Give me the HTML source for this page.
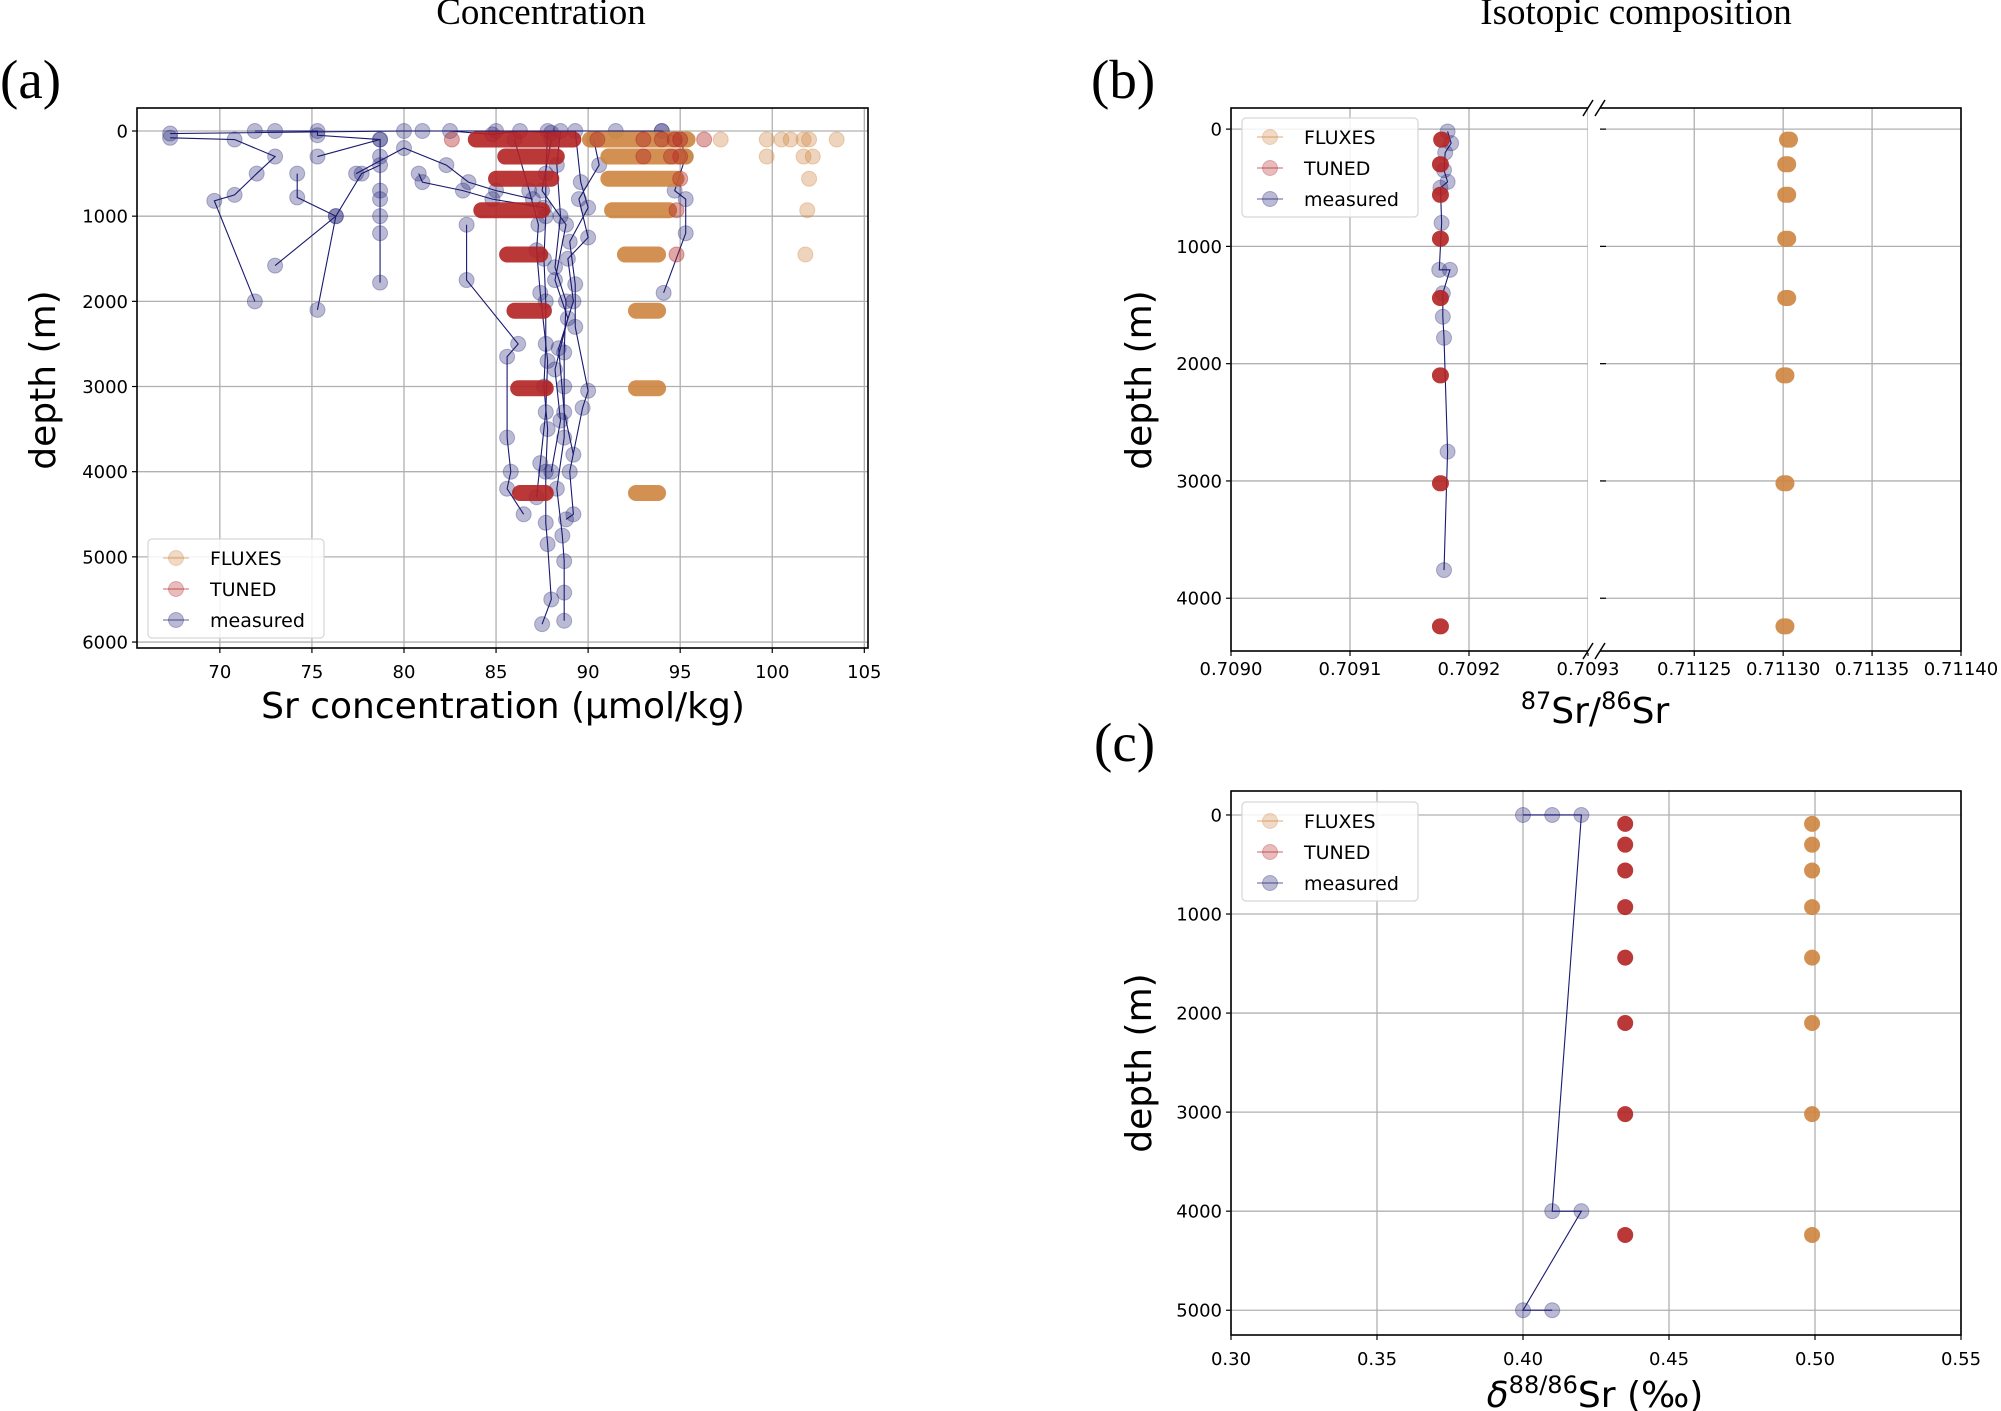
<!DOCTYPE html>
<html><head><meta charset="utf-8"><style>
html,body{margin:0;padding:0;background:#fff;}
svg{display:block;}
text{font-family:"DejaVu Sans","Liberation Sans",sans-serif;fill:#000;}
.serif{font-family:"Liberation Serif",serif;}
</style></head><body>
<svg id="fig" width="2001" height="1411" viewBox="0 0 2001 1411" xmlns="http://www.w3.org/2000/svg">
<text class="serif" x="541" y="24" font-size="37" text-anchor="middle">Concentration</text>
<text class="serif" x="1636" y="24" font-size="37" text-anchor="middle">Isotopic composition</text>
<text class="serif" x="0" y="98" font-size="55">(a)</text>
<text class="serif" x="1091" y="98" font-size="55">(b)</text>
<text class="serif" x="1094" y="761" font-size="55">(c)</text>
</svg>
<script>
// ---------- data ----------
// Panel (a) Sr concentration
const depthsA = [100, 300, 560, 930, 1450, 2110, 3020, 4250];
const tunedMinA = [83.9, 85.5, 85.0, 84.2, 85.6, 86.0, 86.2, 86.3];
const tunedMaxA = [89.2, 88.3, 88.0, 87.5, 87.4, 87.6, 87.7, 87.7];
const tunedExtraX = [82.6, 90.5, 93.0, 94.0, 94.7, 95.0, 96.3, 93.0, 94.5, 95.0, 95.0, 94.8, 94.8];
const tunedExtraD = [100, 100, 100, 100, 100, 100, 100, 300, 300, 300, 560, 930, 1450];
const fluxMinA = [90.1, 91.1, 91.1, 91.3, 92.0, 92.6, 92.6, 92.6];
const fluxMaxA = [95.4, 95.3, 94.8, 94.4, 93.8, 93.8, 93.8, 93.8];
const fluxExtraX = [97.2, 99.7, 100.5, 101.0, 101.7, 102.0, 103.5, 99.7, 101.7, 102.2, 102.0, 101.9, 101.8];
const fluxExtraD = [100, 100, 100, 100, 100, 100, 100, 300, 300, 300, 560, 930, 1450];
const measuredProfilesA = [
 [[67.3,80],[70.8,100],[73,300],[72,500],[70.8,750],[69.7,820],[71.9,2000]],
 [[71.9,0],[73,0],[75.3,0],[75.3,50],[78.7,100],[78.7,300],[78.7,400],[77.7,500],[76.3,1000],[73,1580]],
 [[74.2,500],[74.2,780],[76.3,1000],[75.3,2100]],
 [[75.3,300],[78.7,100],[78.7,700],[78.7,800],[78.7,1000],[78.7,1200],[78.7,1780]],
 [[67.3,30],[80,0],[85,0],[91.5,0],[94,0]],
 [[81,0],[82.5,0],[84.8,40],[86.3,0],[88,20]],
 [[83.4,1100],[83.4,1750],[86.2,2500],[85.6,2650],[85.6,3600],[85.8,4000],[85.6,4200],[86.5,4500]],
 [[87.8,0],[87.7,500],[87.7,1000],[87.6,1500],[87.7,2000],[87.7,2500],[87.6,3000],[87.8,3500],[87.7,4000],[87.7,4600],[87.8,4850],[88,5500],[87.5,5790]],
 [[88.5,0],[88.3,400],[88.5,1000],[88.2,1600],[88.8,2000],[88.7,2600],[88.7,3000],[88.7,3600],[88.3,4200],[88.6,4750],[88.7,5050],[88.7,5420],[88.7,5750]],
 [[89.3,0],[89.6,600],[90,900],[89,1300],[89.3,1800],[89.3,2300],[90,3050],[89.7,3250],[89,4000],[89.2,4500],[88.8,4560]],
 [[94,0],[95,100],[95.3,300],[94.7,700],[95.3,800],[95.3,1200],[94.1,1900]],
 [[80.8,500],[81,600],[83.2,700],[84.8,800],[87.6,900]],
 [[77.4,500],[80,200],[82.3,400],[83.5,600],[85,700],[87,800]],
 [[88,100],[87.5,700],[88.8,1100],[88.2,1750],[88.9,2200],[88.2,2800],[88.5,3400],[88,4000]],
 [[90.3,100],[90.6,400],[89.5,800],[90,1250],[88.9,1500],[89.2,2000],[88.4,2550],[88.7,3300],[89.2,3800]],
 [[86,100],[86.8,700],[87.3,1100],[87.2,1400],[87.4,1900],[87.8,2700],[87.7,3300],[87.4,3900],[87.2,4300]]
];
const xTicksA = [70, 75, 80, 85, 90, 95, 100, 105];
const yTicksA = [0, 1000, 2000, 3000, 4000, 5000, 6000];

// Panel (b) 87Sr/86Sr
const depthsB = [90, 300, 560, 935, 1440, 2100, 3020, 4240];
const tunedB = [0.709177, 0.709176, 0.709176, 0.709176, 0.709176, 0.709176, 0.709176, 0.709176];
const fluxB = [0.711303, 0.711302, 0.711302, 0.711302, 0.711302, 0.711301, 0.711301, 0.711301];
const measuredXB = [0.709182, 0.709185, 0.709180, 0.709179, 0.709182, 0.709176, 0.709177, 0.709175, 0.709184, 0.709178, 0.709178, 0.709179, 0.709182, 0.709179];
const measuredDB = [20, 120, 200, 350, 450, 500, 800, 1200, 1200, 1400, 1600, 1780, 2750, 3760];
const xTicksBLeft = ["0.7090", "0.7091", "0.7092", "0.7093"];
const xTicksBRight = ["0.71125", "0.71130", "0.71135", "0.71140"];
const yTicksB = [0, 1000, 2000, 3000, 4000];

// Panel (c) d88/86Sr
const depthsC = [90, 300, 560, 930, 1440, 2100, 3020, 4240];
const tunedC = [0.435, 0.435, 0.435, 0.435, 0.435, 0.435, 0.435, 0.435];
const fluxC = [0.499, 0.499, 0.499, 0.499, 0.499, 0.499, 0.499, 0.499];
const measuredXC = [0.40, 0.41, 0.42, 0.41, 0.42, 0.40, 0.41];
const measuredDC = [0, 0, 0, 4000, 4000, 5000, 5000];
const xTicksC = ["0.30", "0.35", "0.40", "0.45", "0.50", "0.55"];
const yTicksC = [0, 1000, 2000, 3000, 4000, 5000];

// ---------- drawing ----------
const NS = "http://www.w3.org/2000/svg";
const svg = document.getElementById('fig');
const NAVY = '#191970', RED = '#b22222', PERU = '#cd853f', R = 7.5;
function mk(tag, attrs, parent) {
  const e = document.createElementNS(NS, tag);
  for (const k in attrs) e.setAttribute(k, attrs[k]);
  (parent || svg).appendChild(e);
  return e;
}
function lin(d0, d1, r0, r1) { return v => r0 + (v - d0) / (d1 - d0) * (r1 - r0); }

function frame(g, L, T, Rr, B) {
  const f = mk('rect', {x: L, y: T, width: Rr - L, height: B - T, fill: 'none', stroke: '#000', 'stroke-width': 1.6}, g);
  
  
}
function yAxis(g, ticks, y, L, Rr) {
  ticks.forEach(t => {
    const gl = mk('line', {x1: L, x2: Rr, y1: y(t), y2: y(t), stroke: '#b0b0b0', 'stroke-width': 1.3}, g);
    
    
    mk('line', {x1: L - 5, x2: L, y1: y(t), y2: y(t), stroke: '#000', 'stroke-width': 1.2}, g);
    const tx = mk('text', {x: L - 9, y: y(t) + 6.5, 'font-size': 18, 'text-anchor': 'end'}, g);
    tx.textContent = t;
    
    
  });
}
function xTick(g, px, label, T, B, ly) {
  const gl = mk('line', {x1: px, x2: px, y1: T, y2: B, stroke: '#b0b0b0', 'stroke-width': 1.3}, g);
  
  
  mk('line', {x1: px, x2: px, y1: B, y2: B + 5, stroke: '#000', 'stroke-width': 1.2}, g);
  const tx = mk('text', {x: px, y: ly, 'font-size': 18, 'text-anchor': 'middle'}, g);
  tx.textContent = label;
  
  
}
function dot(g, cx, cy, color, op, name) {
  const c = mk('circle', {cx: cx, cy: cy, r: R, fill: color, 'fill-opacity': op, stroke: color, 'stroke-opacity': op, 'stroke-width': 1}, g);
  
  
  return c;
}
function legend(g, x, y) {
  const box = mk('rect', {x: x, y: y, width: 176, height: 99, rx: 4, fill: '#fff', 'fill-opacity': 0.85, stroke: '#d6d6d6', 'stroke-width': 1.2}, g);
  
  
  const items = [['FLUXES', PERU], ['TUNED', RED], ['measured', NAVY]];
  items.forEach((it, i) => {
    const cy = y + 19 + i * 31;
    mk('line', {x1: x + 15, x2: x + 41, y1: cy, y2: cy, stroke: it[1], 'stroke-opacity': 0.35, 'stroke-width': 2}, g);
    dot(g, x + 28, cy, it[1], 0.3, 'legend-marker');
    const t = mk('text', {x: x + 62, y: cy + 7, 'font-size': 19}, g);
    t.textContent = it[0];
    
    
  });
}
function capsule(g, x1, x2, cy, color, name) {
  const l = mk('line', {x1: x1, x2: x2, y1: cy, y2: cy, stroke: color, 'stroke-width': 2 * R + 1, 'stroke-linecap': 'round', 'stroke-opacity': 0.9}, g);
  
  
}

// ---- Panel A ----
(function(){
  const L = 137, T = 108, Rr = 868, B = 648;
  const g = mk('g', {});  
  const x = lin(65.5, 105.2, L, Rr), y = lin(-270, 6070, T, B);
  yAxis(g, yTicksA, y, L, Rr);
  xTicksA.forEach(t => xTick(g, x(t), t, T, B, 678));
  measuredProfilesA.forEach(p => {
    const pl = mk('polyline', {points: p.map(q => x(q[0]) + ',' + y(q[1])).join(' '), fill: 'none', stroke: NAVY, 'stroke-width': 1.1}, g);
    
    
    p.forEach(q => dot(g, x(q[0]), y(q[1]), NAVY, 0.3, 'measured-point'));
  });
  depthsA.forEach((d, i) => capsule(g, x(fluxMinA[i]), x(fluxMaxA[i]), y(d), PERU, 'fluxes-range'));
  fluxExtraX.forEach((v, i) => dot(g, x(v), y(fluxExtraD[i]), PERU, 0.35, 'fluxes-point'));
  depthsA.forEach((d, i) => capsule(g, x(tunedMinA[i]), x(tunedMaxA[i]), y(d), RED, 'tuned-range'));
  tunedExtraX.forEach((v, i) => dot(g, x(v), y(tunedExtraD[i]), RED, 0.4, 'tuned-point'));
  frame(g, L, T, Rr, B);
  legend(g, 148, 539);
  const xl = mk('text', {x: 503, y: 718, 'font-size': 36, 'text-anchor': 'middle'}, g);
  xl.textContent = 'Sr concentration (\u03bcmol/kg)';
   
  const yl = mk('text', {x: 0, y: 0, 'font-size': 36, 'text-anchor': 'middle', transform: 'translate(55,380) rotate(-90)'}, g);
  yl.textContent = 'depth (m)';
   
})();

// ---- Panel B ----
(function(){
  const L = 1231, T = 108, Rr = 1961, B = 651, BL = 1588, BR = 1600;
  const g = mk('g', {});  
  const xl_ = lin(0.7090, 0.7093, L, BL), xr_ = lin(0.711197, 0.71140, BR, Rr), y = lin(-180, 4450, T, B);
  const x = v => v < 0.710 ? xl_(v) : xr_(v);
  yAxis(g, yTicksB, y, L, Rr);
  xTicksBLeft.forEach(t => xTick(g, xl_(parseFloat(t)), t, T, B, 675));
  xTicksBRight.forEach(t => xTick(g, xr_(parseFloat(t)), t, T, B, 675));
  const pl = mk('polyline', {points: measuredXB.map((v, i) => x(v) + ',' + y(measuredDB[i])).join(' '), fill: 'none', stroke: NAVY, 'stroke-width': 1.1}, g);
   
  measuredXB.forEach((v, i) => dot(g, x(v), y(measuredDB[i]), NAVY, 0.3, 'measured-point'));
  depthsB.forEach((d, i) => capsule(g, x(fluxB[i]) - 1.5, x(fluxB[i]) + 1.5, y(d), PERU, 'fluxes-point'));
  depthsB.forEach((d, i) => capsule(g, x(tunedB[i]) - 0.5, x(tunedB[i]) + 0.5, y(d), RED, 'tuned-point'));
  frame(g, L, T, Rr, B);
  const br = mk('rect', {x: BL, y: T - 2, width: BR - BL, height: B - T + 4, fill: '#fff'}, g);
   
  yTicksB.forEach(t => mk('line', {x1: BR, x2: BR + 6, y1: y(t), y2: y(t), stroke: '#000', 'stroke-width': 1.2}, g));
  [T, B].forEach(yy => {
    [BL, BR].forEach(xx => {
      const d = mk('line', {x1: xx - 5, y1: yy + 8, x2: xx + 5, y2: yy - 8, stroke: '#000', 'stroke-width': 1.5}, g);
       
    });
  });
  legend(g, 1242, 118);
  const xl = mk('text', {x: 1595, y: 723, 'font-size': 36, 'text-anchor': 'middle'}, g);
   
  xl.innerHTML = '<tspan baseline-shift="super" font-size="24">87</tspan>Sr/<tspan baseline-shift="super" font-size="24">86</tspan>Sr';
  const yl = mk('text', {x: 0, y: 0, 'font-size': 36, 'text-anchor': 'middle', transform: 'translate(1151,380) rotate(-90)'}, g);
  yl.textContent = 'depth (m)';
   
})();

// ---- Panel C ----
(function(){
  const L = 1231, T = 791, Rr = 1961, B = 1335;
  const g = mk('g', {});  
  const x = lin(0.30, 0.55, L, Rr), y = lin(-242, 5250, T, B);
  yAxis(g, yTicksC, y, L, Rr);
  xTicksC.forEach(t => xTick(g, x(parseFloat(t)), t, T, B, 1365));
  const pl = mk('polyline', {points: measuredXC.map((v, i) => x(v) + ',' + y(measuredDC[i])).join(' '), fill: 'none', stroke: NAVY, 'stroke-width': 1.1}, g);
   
  measuredXC.forEach((v, i) => dot(g, x(v), y(measuredDC[i]), NAVY, 0.3, 'measured-point'));
  depthsC.forEach((d, i) => capsule(g, x(fluxC[i]), x(fluxC[i]), y(d), PERU, 'fluxes-point'));
  depthsC.forEach((d, i) => capsule(g, x(tunedC[i]), x(tunedC[i]), y(d), RED, 'tuned-point'));
  frame(g, L, T, Rr, B);
  legend(g, 1242, 802);
  const xl = mk('text', {x: 1595, y: 1407, 'font-size': 36, 'text-anchor': 'middle'}, g);
   
  xl.innerHTML = '<tspan font-style="italic">\u03b4</tspan><tspan baseline-shift="super" font-size="24">88/86</tspan>Sr (\u2030)';
  const yl = mk('text', {x: 0, y: 0, 'font-size': 36, 'text-anchor': 'middle', transform: 'translate(1151,1063) rotate(-90)'}, g);
  yl.textContent = 'depth (m)';
   
})();
</script>
</body></html>
